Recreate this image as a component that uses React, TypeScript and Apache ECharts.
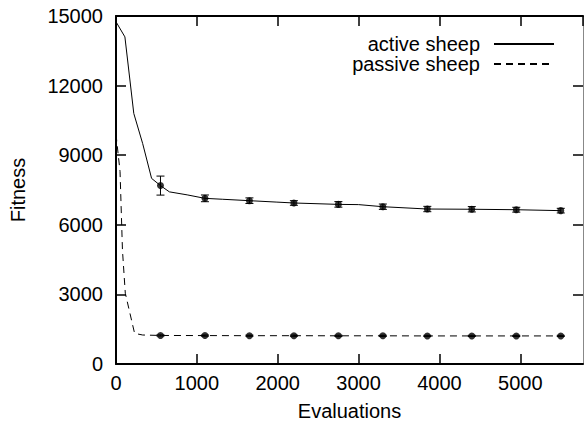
import React, { useEffect, useRef } from "react";
import * as echarts from "echarts";

// Continuous curves (evaluations vs fitness)
const activeCurveX = [0, 110, 220, 330, 440, 550, 660, 880, 1100, 1320, 1650, 1980, 2200, 2750, 3000, 3300, 3850, 4400, 4950, 5500];
const activeCurveY = [14750, 14100, 10800, 9500, 8000, 7690, 7420, 7290, 7140, 7100, 7040, 6980, 6940, 6880, 6870, 6780, 6680, 6670, 6650, 6610];
const passiveCurveX = [0, 50, 80, 115, 230, 330, 550, 1100, 1650, 2200, 2750, 3300, 3850, 4400, 4950, 5500];
const passiveCurveY = [9900, 8300, 4900, 3050, 1320, 1250, 1230, 1225, 1220, 1220, 1215, 1215, 1210, 1210, 1210, 1210];

// Sampled points with error bars
const markerX = [550, 1100, 1650, 2200, 2750, 3300, 3850, 4400, 4950, 5500];
const activeMean = [7690, 7140, 7040, 6940, 6880, 6780, 6680, 6670, 6650, 6610];
const activeErr = [410, 145, 120, 100, 120, 115, 115, 115, 105, 100];
const passiveMean = [1230, 1225, 1220, 1220, 1215, 1215, 1210, 1210, 1210, 1210];
const passiveErr = [25, 25, 25, 25, 25, 25, 25, 25, 25, 25];

const seriesNames = ["active sheep", "passive sheep"];
const xMax = 5775;
const yMax = 15000;

const FONT = "'Liberation Sans', Arial, Helvetica, sans-serif";

const zip = (xs: number[], ys: number[]) => xs.map((x, i) => [x, ys[i]]);

const errorRender = (params: any, api: any) => {
  const x = api.value(0);
  const lo = api.value(1);
  const hi = api.value(2);
  const top = api.coord([x, hi]);
  const bot = api.coord([x, lo]);
  const w = 4;
  const style = { stroke: "#000", lineWidth: 1 };
  return {
    type: "group",
    children: [
      { type: "line", shape: { x1: top[0], y1: top[1], x2: bot[0], y2: bot[1] }, style },
      { type: "line", shape: { x1: top[0] - w, y1: top[1], x2: top[0] + w, y2: top[1] }, style },
      { type: "line", shape: { x1: bot[0] - w, y1: bot[1], x2: bot[0] + w, y2: bot[1] }, style },
    ],
  };
};

export default function App() {
  const ref = useRef<HTMLDivElement>(null);
  useEffect(() => {
    if (!ref.current) return;
    const chart = echarts.init(ref.current, null, { renderer: "svg" });
    const axisLine = { show: true, onZero: false, lineStyle: { color: "#000", width: 2 } };
    const axisTick = { show: true, inside: true, length: 10, lineStyle: { color: "#000", width: 1.5 } };
    const labelStyle = { color: "#000", fontSize: 20, fontFamily: FONT };
    const xFmt = (v: number) => (v % 1000 === 0 ? String(v) : "");
    const yFmt = (v: number) => String(v);
    chart.setOption({
      animation: false,
      textStyle: { fontFamily: FONT },
      grid: { left: 115, top: 16, right: 2, bottom: 66, containLabel: false },
      xAxis: [
        {
          type: "value", min: 0, max: xMax, interval: 1000, position: "bottom",
          axisLine, axisTick, splitLine: { show: false },
          axisLabel: { ...labelStyle, margin: 9, formatter: xFmt, showMaxLabel: false },
          name: "Evaluations", nameLocation: "middle", nameGap: 37,
          nameTextStyle: { ...labelStyle },
        },
        {
          type: "value", min: 0, max: xMax, interval: 1000, position: "top",
          axisLine, axisTick, splitLine: { show: false }, axisLabel: { show: false },
        },
      ],
      yAxis: [
        {
          type: "value", min: 0, max: yMax, interval: 3000, position: "left",
          axisLine, axisTick, splitLine: { show: false },
          axisLabel: { ...labelStyle, margin: 13, formatter: yFmt },
          name: "Fitness", nameLocation: "middle", nameGap: 88,
          nameTextStyle: { ...labelStyle },
        },
        {
          type: "value", min: 0, max: yMax, interval: 3000, position: "right",
          axisLine: { show: true, onZero: false, lineStyle: { color: "#888", width: 1 } },
          axisTick, splitLine: { show: false },
          axisLabel: { show: false },
        },
      ],
      legend: {
        data: seriesNames,
        orient: "vertical",
        right: 25,
        top: 29,
        align: "right",
        itemWidth: 60,
        itemHeight: 20,
        itemGap: 0,
        itemStyle: { opacity: 0 },
        textStyle: { ...labelStyle, padding: [0, 9, 0, 0] },
        selectedMode: false,
      },
      series: [
        {
          name: seriesNames[0], type: "line", data: zip(activeCurveX, activeCurveY),
          symbol: "none", lineStyle: { color: "#000", width: 1 }, itemStyle: { color: "#000" },
          xAxisIndex: 0, yAxisIndex: 0, z: 2,
        },
        {
          name: seriesNames[1], type: "line", data: zip(passiveCurveX, passiveCurveY),
          symbol: "none", lineStyle: { color: "#000", width: 1, type: [7, 5] }, itemStyle: { color: "#000" },
          xAxisIndex: 0, yAxisIndex: 0, z: 2,
        },
        {
          type: "custom", renderItem: errorRender,
          data: markerX.map((x, i) => [x, activeMean[i] - activeErr[i], activeMean[i] + activeErr[i]]),
          encode: { x: 0, y: [1, 2] }, z: 3,
        },
        {
          type: "custom", renderItem: errorRender,
          data: markerX.map((x, i) => [x, passiveMean[i] - passiveErr[i], passiveMean[i] + passiveErr[i]]),
          encode: { x: 0, y: [1, 2] }, z: 3,
        },
        {
          type: "scatter", data: zip(markerX, activeMean), symbol: "circle", symbolSize: 7,
          itemStyle: { color: "#000" }, z: 4,
        },
        {
          type: "scatter", data: zip(markerX, passiveMean), symbol: "circle", symbolSize: 7,
          itemStyle: { color: "#000" }, z: 4,
        },
      ],
    });
    return () => chart.dispose();
  }, []);
  return (
    <div
      ref={ref}
      style={{ position: "fixed", left: 0, top: 0, width: 585, height: 430, background: "#fff" }}
    />
  );
}
